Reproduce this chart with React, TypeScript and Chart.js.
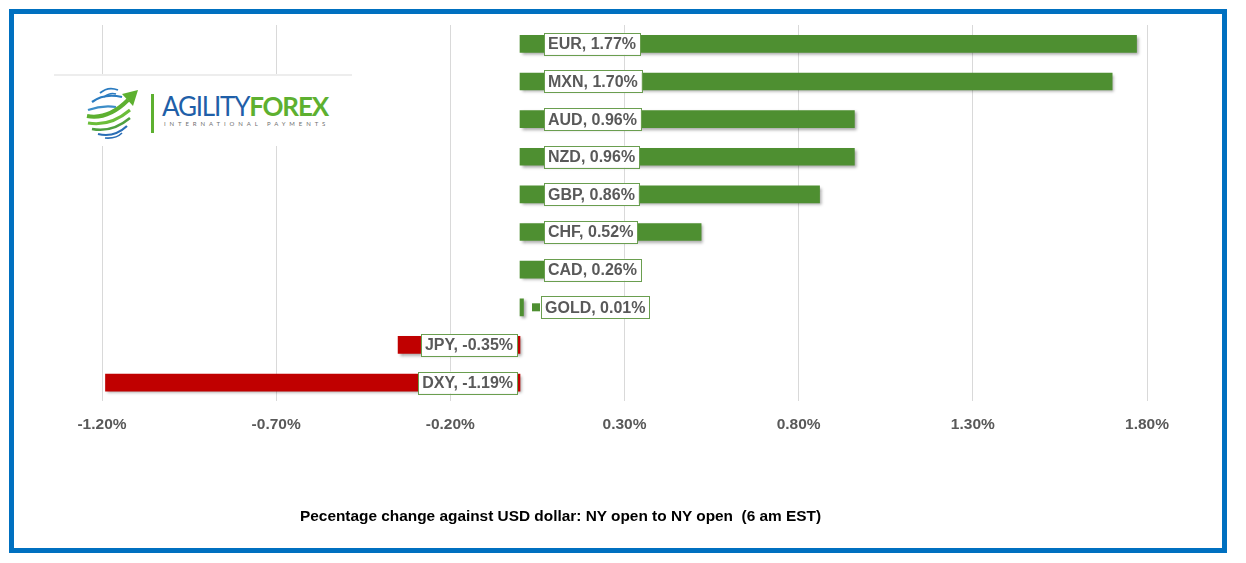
import React, { useEffect, useRef } from "react";
import { Chart, registerables } from "chart.js";

Chart.register(...registerables);

const categories = ["EUR", "MXN", "AUD", "NZD", "GBP", "CHF", "CAD", "GOLD", "JPY", "DXY"];
const changes = [1.77, 1.7, 0.96, 0.96, 0.86, 0.52, 0.26, 0.01, -0.35, -1.19];
const axisMin = -1.2;
const axisMax = 1.8;
const axisStep = 0.5;
const titleText = "Pecentage change against USD dollar: NY open to NY open  (6 am EST)";

const GREEN = "#4E8F31";
const RED = "#C00000";
const FONT = "'Liberation Sans', Arial, sans-serif";
const LABEL_FONT = `bold 16px ${FONT}`;

const shadowPlugin = {
  id: "barShadow",
  beforeDatasetsDraw(chart: any) {
    const ctx = chart.ctx;
    ctx.save();
    ctx.shadowColor = "rgba(0,0,0,0.35)";
    ctx.shadowBlur = 3;
    ctx.shadowOffsetX = 2;
    ctx.shadowOffsetY = 2;
  },
  afterDatasetsDraw(chart: any) {
    chart.ctx.restore();
  },
};

const labelPlugin = {
  id: "boxLabels",
  afterDatasetsDraw(chart: any) {
    const ctx = chart.ctx;
    const meta = chart.getDatasetMeta(0);
    const xs = chart.scales.x;
    const zeroX = xs.getPixelForValue(0);
    ctx.save();
    ctx.font = LABEL_FONT;
    ctx.textBaseline = "middle";
    meta.data.forEach((bar: any, i: number) => {
      const v = changes[i];
      const text = `${categories[i]}, ${v.toFixed(2)}%`;
      const tw = ctx.measureText(text).width;
      const padX = 4;
      const bw = tw + padX * 2;
      const bh = 22;
      const cy = bar.y;
      let left: number;
      const tiny = Math.abs(v) < 0.05;
      if (v >= 0) {
        left = tiny ? zeroX + 21 : zeroX + 24;
      } else {
        left = zeroX - 3 - bw;
      }
      if (tiny) {
        ctx.fillStyle = GREEN;
        ctx.fillRect(zeroX + 12, cy - 4, 8, 8);
      }
      ctx.fillStyle = "#FFFFFF";
      ctx.fillRect(left, cy - bh / 2, bw, bh);
      ctx.strokeStyle = "#6A9E4F";
      ctx.lineWidth = 1;
      ctx.strokeRect(Math.round(left) + 0.5, Math.round(cy - bh / 2) + 0.5, Math.round(bw), bh);
      ctx.fillStyle = "#595959";
      ctx.textAlign = "left";
      ctx.fillText(text, left + padX, cy + 1);
    });
    ctx.restore();
  },
};

function Logo() {
  return (
    <div
      style={{
        position: "absolute",
        left: 54,
        top: 74,
        width: 298,
        height: 70,
        background: "#FFFFFF",
        borderTop: "2px solid #EDEDED",
        zIndex: 2,
      }}
    >
      <svg
        width={56}
        height={54}
        viewBox="0 0 56 54"
        style={{ position: "absolute", left: 30, top: 9 }}
      >
        <path d="M16 8 Q24 1 34 5" stroke="#2A7BC0" strokeWidth={1.8} fill="none" />
        <path d="M20 12 Q26 7 32 9" stroke="#2A7BC0" strokeWidth={1.5} fill="none" />
        <path d="M8 17 Q20 8 38 12" stroke="#2A7BC0" strokeWidth={2.2} fill="none" />
        <path d="M4 25 Q18 20 32 22" stroke="#3C8DC8" strokeWidth={2.2} fill="none" />
        <path d="M3 31 Q24 35 44 15" stroke="#5DB030" strokeWidth={4} fill="none" />
        <path d="M38 9 L54 5 L49 21 Z" fill="#5DB030" />
        <path d="M4 38 Q26 42 46 25" stroke="#6BBE3A" strokeWidth={3} fill="none" />
        <path d="M8 44 Q28 48 46 33" stroke="#4FA040" strokeWidth={2.5} fill="none" />
        <path d="M14 49 Q30 53 43 41" stroke="#2A6DB5" strokeWidth={2.2} fill="none" />
        <path d="M21 53 Q32 54 38 48" stroke="#2A6DB5" strokeWidth={1.6} fill="none" />
      </svg>
      <div
        style={{
          position: "absolute",
          left: 97,
          top: 18,
          width: 3,
          height: 39,
          background: "#5DB030",
        }}
      />
      <div
        style={{
          position: "absolute",
          left: 108,
          top: 16,
          whiteSpace: "nowrap",
          fontFamily: "Lato, 'Open Sans', sans-serif",
          fontSize: 26,
          lineHeight: "28px",
          letterSpacing: -1.2,
        }}
      >
        <span style={{ color: "#1F5FA8", fontWeight: 400 }}>AGILITY</span>
        <span style={{ color: "#5DB030", fontWeight: 700 }}>FOREX</span>
      </div>
      <div
        style={{
          position: "absolute",
          left: 110,
          top: 44,
          whiteSpace: "nowrap",
          fontFamily: "Lato, 'Open Sans', sans-serif",
          fontSize: 6,
          letterSpacing: 3.9,
          color: "#6F6F6F",
        }}
      >
        INTERNATIONAL PAYMENTS
      </div>
    </div>
  );
}

export default function App() {
  const canvasRef = useRef<HTMLCanvasElement | null>(null);

  useEffect(() => {
    if (!canvasRef.current) return;
    const chart = new Chart(canvasRef.current, {
      type: "bar",
      data: {
        labels: categories,
        datasets: [
          {
            data: changes,
            backgroundColor: changes.map((v) => (v >= 0 ? GREEN : RED)),
            barThickness: 17,
            borderWidth: 0,
          },
        ],
      },
      options: {
        indexAxis: "y",
        animation: false,
        responsive: false,
        maintainAspectRatio: false,
        devicePixelRatio: 1,
        layout: { padding: { left: 102, right: 99, top: 25, bottom: 115 } },
        plugins: {
          legend: { display: false },
          tooltip: { enabled: false },
          title: { display: false },
        },
        scales: {
          y: {
            display: false,
            offset: true,
          },
          x: {
            min: axisMin,
            max: axisMax,
            border: { display: false },
            grid: { color: "#D9D9D9", lineWidth: 1, drawTicks: false },
            ticks: {
              stepSize: axisStep,
              padding: 14,
              color: "#595959",
              font: { family: FONT, size: 15.5, weight: "bold" },
              callback: (v: any) => `${Number(v).toFixed(2)}%`,
            },
          },
        },
      },
      plugins: [shadowPlugin, labelPlugin],
    } as any);
    return () => chart.destroy();
  }, []);

  return (
    <div
      style={{
        position: "absolute",
        left: 0,
        top: 0,
        width: 1246,
        height: 563,
        background: "#FFFFFF",
        overflow: "hidden",
      }}
    >
      <canvas
        ref={canvasRef}
        width={1246}
        height={563}
        style={{ position: "absolute", left: 0, top: 0, width: 1246, height: 563 }}
      />
      <Logo />
      <div
        style={{
          position: "absolute",
          left: 300,
          top: 507,
          whiteSpace: "pre",
          fontFamily: FONT,
          fontWeight: 700,
          fontSize: 15.4,
          color: "#000000",
          zIndex: 2,
        }}
      >
        {titleText}
      </div>
      <div
        style={{
          position: "absolute",
          left: 9,
          top: 9,
          width: 1218,
          height: 544,
          border: "5px solid #0070C0",
          boxSizing: "border-box",
          zIndex: 3,
          pointerEvents: "none",
        }}
      />
    </div>
  );
}
